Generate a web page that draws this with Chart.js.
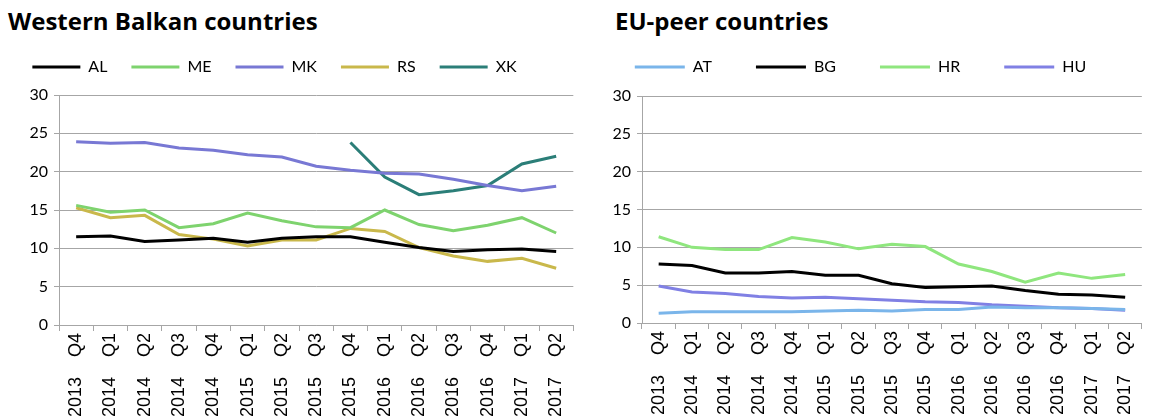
<!DOCTYPE html>
<html>
<head>
<meta charset="utf-8">
<script src="https://cdn.jsdelivr.net/npm/chart.js@4/dist/chart.umd.min.js"></script>
<style>
  body { margin: 0; background: #fff; overflow: hidden; }
  .title { position: absolute; top: 4px; font: bold 24px "Open Sans", sans-serif; color: #000; }
  canvas { position: absolute; top: 0; }
</style>
</head>
<body>
<div class="title" style="left:8px">Western Balkan countries</div>
<div class="title" style="left:615px">EU-peer countries</div>
<canvas id="wb" width="580" height="418" style="left:0"></canvas>
<canvas id="eu" width="569" height="418" style="left:580px"></canvas>
<script>
const quarters = ['2013    Q4', '2014    Q1', '2014    Q2', '2014    Q3', '2014    Q4', '2015    Q1', '2015    Q2',
  '2015    Q3', '2015    Q4', '2016    Q1', '2016    Q2', '2016    Q3', '2016    Q4', '2017    Q1', '2017    Q2'];
const yTicks = [0, 5, 10, 15, 20, 25, 30];

// Western Balkan
const AL = [11.5, 11.6, 10.9, 11.1, 11.3, 10.8, 11.3, 11.5, 11.5, 10.8, 10.1, 9.6, 9.8, 9.9, 9.6];
const ME = [15.6, 14.7, 15.0, 12.7, 13.2, 14.6, 13.6, 12.8, 12.7, 15.0, 13.1, 12.3, 13.0, 14.0, 12.0];
const MK = [23.9, 23.7, 23.8, 23.1, 22.8, 22.2, 21.9, 20.7, 20.2, 19.8, 19.7, 19.0, 18.2, 17.5, 18.1];
const RS = [15.3, 14.0, 14.3, 11.8, 11.2, 10.3, 11.1, 11.1, 12.6, 12.2, 10.1, 9.0, 8.3, 8.7, 7.4];
const XK = [null, null, null, null, null, null, null, null, 23.8, 19.3, 17.0, 17.5, 18.2, 21.0, 22.0];

// EU peers
const AT = [1.3, 1.5, 1.5, 1.5, 1.5, 1.6, 1.7, 1.6, 1.8, 1.8, 2.1, 2.0, 2.0, 1.9, 1.8];
const BG = [7.8, 7.6, 6.6, 6.6, 6.8, 6.3, 6.3, 5.2, 4.7, 4.8, 4.9, 4.3, 3.8, 3.7, 3.4];
const HR = [11.4, 10.0, 9.7, 9.7, 11.3, 10.7, 9.8, 10.4, 10.1, 7.8, 6.8, 5.4, 6.6, 5.9, 6.4];
const HU = [4.9, 4.1, 3.9, 3.5, 3.3, 3.4, 3.2, 3.0, 2.8, 2.7, 2.4, 2.2, 2.0, 1.9, 1.7];

const gridCol = '#a6a6a6';

function line(label, data, color) {
  return { label, data, borderColor: color, backgroundColor: color, borderWidth: 3,
    pointRadius: 0, fill: false, tension: 0 };
}

function makeChart(id, datasets, o) {
  return new Chart(document.getElementById(id), {
    type: 'line',
    data: { labels: quarters, datasets },
    options: {
      responsive: false,
      animation: false,
      layout: { padding: { left: o.padLeft, right: o.padRight, top: o.padTop, bottom: 0 } },
      plugins: {
        legend: {
          labels: {
            usePointStyle: true, pointStyle: 'line', pointStyleWidth: o.boxW,
            padding: o.legendPad, color: '#000',
            font: { family: 'Lato', size: 16 }
          }
        },
        tooltip: { enabled: false }
      },
      scales: {
        x: {
          offset: true,
          grid: { offset: true, drawOnChartArea: false, tickLength: 6, color: gridCol },
          border: { color: gridCol },
          ticks: { autoSkip: false, maxRotation: 90, minRotation: 90, padding: 2, color: '#000',
            font: { family: 'Liberation Sans', size: 18 } },
          afterFit(s) { s.height = o.xHeight; }
        },
        spacer: {
          type: 'category', position: 'top',
          grid: { display: false }, ticks: { display: false }, border: { display: false },
          afterFit(s) { s.height = o.spacer; }
        },
        y: {
          min: 0, max: 30,
          afterBuildTicks(s) { s.ticks = yTicks.map(v => ({ value: v })); },
          grid: { color: gridCol, tickLength: 5 },
          border: { color: gridCol },
          ticks: { padding: 6, color: '#000', font: { family: 'Lato', size: 16 } },
          afterFit(s) { s.width = o.yWidth; }
        }
      }
    }
  });
}

makeChart('wb', [
  line('AL', AL, '#000000'),
  line('ME', ME, '#7ed36e'),
  line('MK', MK, '#7878d4'),
  line('RS', RS, '#c9b84b'),
  line('XK', XK, '#2b7e78')
], { padLeft: -26, padRight: 5, padTop: 35, boxW: 48, legendPad: 24, spacer: 10, xHeight: 93, yWidth: 85 });

makeChart('eu', [
  line('AT', AT, '#7ab5ea'),
  line('BG', BG, '#000000'),
  line('HR', HR, '#8fe67e'),
  line('HU', HU, '#8080e4')
], { padLeft: -8, padRight: 0, padTop: 15, boxW: 50, legendPad: 44, spacer: 11, xHeight: 95, yWidth: 70 });
</script>
</body>
</html>
